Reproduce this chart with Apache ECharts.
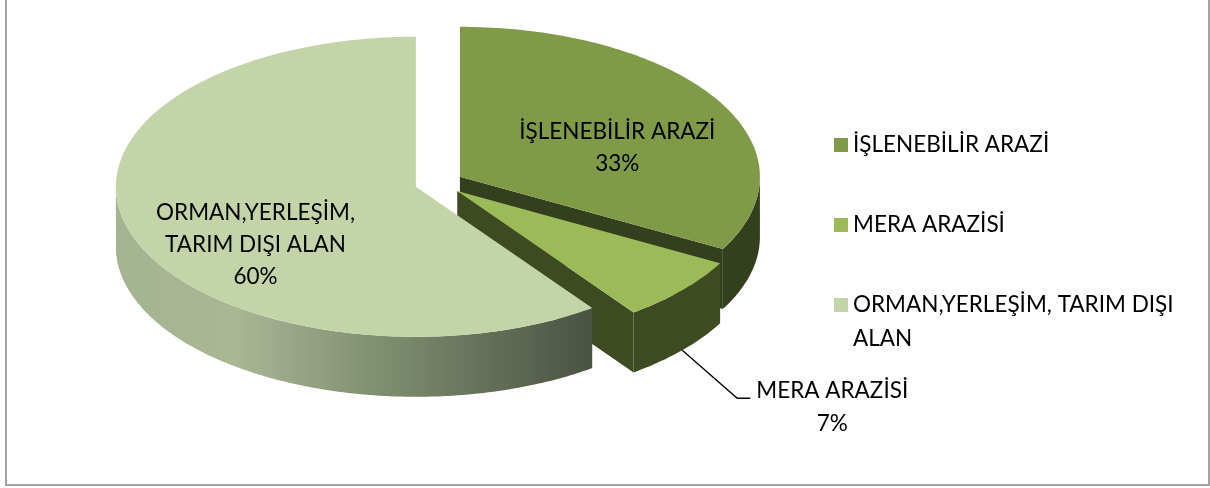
<!DOCTYPE html>
<html>
<head>
<meta charset="utf-8">
<script src="https://cdn.jsdelivr.net/npm/echarts@6/dist/echarts.min.js"></script>
<style>
html,body{margin:0;padding:0;background:#fff;}
#chart{width:1210px;height:488px;}
</style>
</head>
<body>
<div id="chart"></div>
<script>
var categories = ["İŞLENEBİLİR ARAZİ", "MERA ARAZİSİ", "ORMAN,YERLEŞİM, TARIM DIŞI ALAN"];
var values = [33, 7, 60];
var sliceLabels = ["İŞLENEBİLİR ARAZİ", "MERA ARAZİSİ", "ORMAN,YERLEŞİM,\nTARIM DIŞI ALAN"];
var topColors = ["#7f9b48", "#9bbb59", "#c3d5a8"];
var sideColors = ["#343f1e", "#3e4a22", "#7d8a6c"];

// layout of the tilted pie
var CX = 439, CY = 183, RX = 300, RY = 150, DEPTH = 60, EXPLODE = 0.081;
var FONT = "Lato", FS = 22.5;
var labelNudge = [[5, -8], [0, 0], [8, 7]];

var total = 0;
for (var i = 0; i < values.length; i++) total += values[i];
var angles = [];
var acc = 0;
for (var i = 0; i < values.length; i++) {
  var a0 = acc / total * 360;
  acc += values[i];
  angles.push([a0, acc / total * 360]);
}

function rad(d){ return d * Math.PI / 180; }

// point on slice idx at angle theta (clockwise from 12 o'clock), radius fraction r, drop h
function pt(idx, theta, r, h){
  var mid = rad((angles[idx][0] + angles[idx][1]) / 2);
  var ox = EXPLODE * RX * Math.sin(mid);
  var oy = -EXPLODE * RY * Math.cos(mid);
  return [CX + ox + r * RX * Math.sin(rad(theta)), CY + oy - r * RY * Math.cos(rad(theta)) + h];
}

function arc(idx, from, to, h){
  var pts = [];
  var n = Math.max(2, Math.ceil(to - from));
  for (var k = 0; k <= n; k++) pts.push(pt(idx, from + (to - from) * k / n, 1, h));
  return pts;
}

function renderSlice(idx){
  return function(params, api){
    var a0 = angles[idx][0], a1 = angles[idx][1];
    var mid = (a0 + a1) / 2;
    var children = [];
    var side = sideColors[idx];

    // cut faces that turn toward the viewer
    [[a0, a0 - 90], [a1, a1 + 90]].forEach(function(f){
      if (Math.cos(rad(f[1])) < -1e-6) {
        children.push({
          type: "polygon",
          shape: {points: [pt(idx, f[0], 0, 0), pt(idx, f[0], 1, 0), pt(idx, f[0], 1, DEPTH), pt(idx, f[0], 0, DEPTH)]},
          style: {fill: side}
        });
      }
    });

    // outer wall, front half only
    var lo = Math.max(a0, 90), hi = Math.min(a1, 270);
    if (hi > lo) {
      var wall = arc(idx, lo, hi, 0).concat(arc(idx, lo, hi, DEPTH).reverse());
      var fill = side;
      if (idx === 2) {
        fill = new echarts.graphic.LinearGradient(0, 0, 1, 0, [
          {offset: 0, color: "#a4b390"},
          {offset: 0.25, color: "#a9b795"},
          {offset: 0.6, color: "#7a886b"},
          {offset: 1, color: "#4a5242"}
        ]);
      }
      children.push({type: "polygon", shape: {points: wall}, style: {fill: fill}});
    }

    // top face
    children.push({
      type: "polygon",
      shape: {points: [pt(idx, a0, 0, 0)].concat(arc(idx, a0, a1, 0))},
      style: {fill: topColors[idx]}
    });

    var txt = sliceLabels[idx] + "\n" + values[idx] + "%";
    if (idx === 1) {
      var p = pt(idx, mid, 1, DEPTH);
      var q = [p[0] + 55, p[1] + 48];
      var e = [q[0] + 13, q[1]];
      children.push({type: "polyline", shape: {points: [p, q, e]}, style: {stroke: "#000", lineWidth: 1.3, fill: null}});
      children.push({type: "text", style: {
        text: txt, x: e[0] + 82, y: e[1] + 9, align: "center", verticalAlign: "middle",
        fontFamily: FONT, fontSize: FS, lineHeight: 33, fill: "#000"
      }});
    } else {
      var c = pt(idx, mid, 0.59, 24);
      children.push({type: "text", style: {
        text: txt, x: c[0] + labelNudge[idx][0], y: c[1] + labelNudge[idx][1], align: "center", verticalAlign: "middle",
        fontFamily: FONT, fontSize: FS, lineHeight: 32, fill: "#000"
      }});
    }
    return {type: "group", children: children};
  };
}

var myChart = echarts.init(document.getElementById("chart"));
myChart.setOption({
  backgroundColor: "#fff",
  animation: false,
  graphic: [{
    type: "rect", silent: true,
    shape: {x: 6, y: -10, width: 1203, height: 495},
    style: {fill: null, stroke: "#a3a3a3", lineWidth: 2}
  }],
  legend: {
    orient: "vertical", left: 829, top: 123,
    itemWidth: 14, itemHeight: 14, itemGap: 46, icon: "rect",
    data: categories,
    formatter: function(name){
      if (name.length < 25) return name;
      var parts = name.split(" ");
      var last = parts.pop();
      return "{a|" + parts.join(" ") + "}\n{b|" + last + "}";
    },
    textStyle: {
      fontFamily: FONT, fontSize: FS, color: "#000", lineHeight: 34,
      rich: {
        a: {fontFamily: FONT, fontSize: FS, color: "#000", lineHeight: 34},
        b: {fontFamily: FONT, fontSize: FS, color: "#000", lineHeight: 0, height: 34, verticalAlign: "top"}
      }
    }
  },
  series: categories.map(function(name, i){
    return {
      type: "custom", name: name, coordinateSystem: "none",
      data: [[values[i]]], renderItem: renderSlice(i),
      itemStyle: {color: topColors[i]}, silent: true
    };
  })
});
window.addEventListener("resize", function(){ myChart.resize(); });
</script>
</body>
</html>
